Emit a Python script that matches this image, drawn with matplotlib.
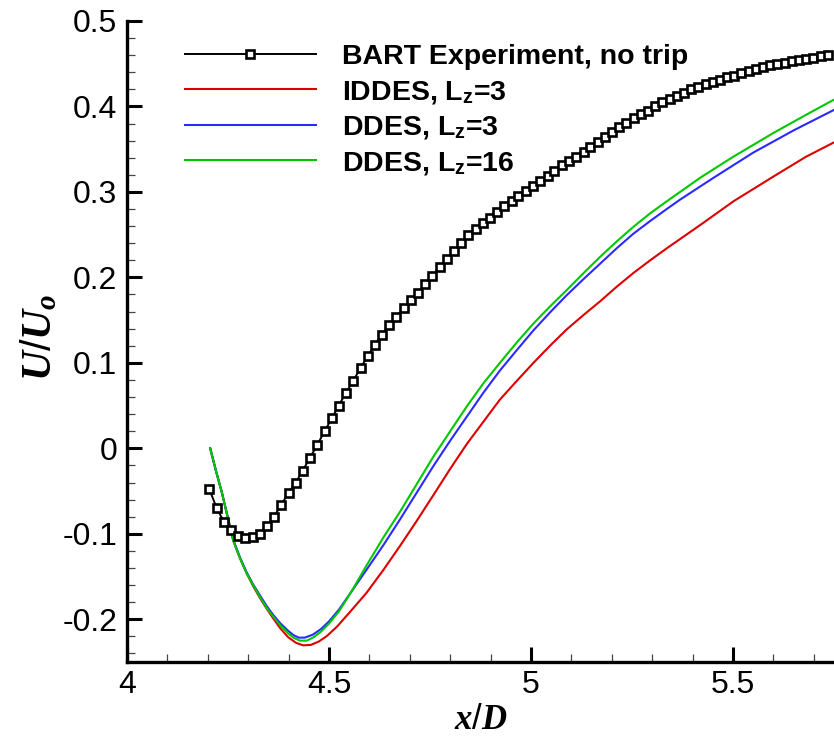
import numpy as np
import matplotlib
matplotlib.use("Agg")
import matplotlib.pyplot as plt
from matplotlib.ticker import MultipleLocator, FuncFormatter

#### DATA ####
exp_x = [4.204, 4.222, 4.240, 4.257, 4.275, 4.293, 4.311, 4.329, 4.346, 4.364,
         4.382, 4.400, 4.418, 4.435, 4.453, 4.471, 4.489, 4.507, 4.524, 4.542,
         4.560, 4.578, 4.596, 4.613, 4.631, 4.649, 4.667, 4.685, 4.702, 4.720,
         4.738, 4.756, 4.774, 4.791, 4.809, 4.827, 4.845, 4.863, 4.880, 4.898,
         4.916, 4.934, 4.952, 4.969, 4.987, 5.005, 5.023, 5.041, 5.058, 5.076,
         5.094, 5.112, 5.130, 5.147, 5.165, 5.183, 5.201, 5.219, 5.236, 5.254,
         5.272, 5.290, 5.308, 5.325, 5.343, 5.361, 5.379, 5.397, 5.414, 5.432,
         5.450, 5.468, 5.486, 5.503, 5.521, 5.539, 5.557, 5.575, 5.592, 5.610,
         5.628, 5.646, 5.664, 5.681, 5.699, 5.717, 5.735]
exp_y = [-0.048, -0.070, -0.086, -0.096, -0.103, -0.105, -0.104, -0.100, -0.091, -0.080,
         -0.066, -0.052, -0.040, -0.026, -0.011, 0.004, 0.020, 0.035, 0.050, 0.065,
         0.079, 0.094, 0.108, 0.121, 0.133, 0.144, 0.154, 0.164, 0.173, 0.182,
         0.192, 0.202, 0.212, 0.221, 0.231, 0.240, 0.250, 0.257, 0.264, 0.270,
         0.277, 0.283, 0.289, 0.295, 0.301, 0.307, 0.313, 0.319, 0.325, 0.331,
         0.336, 0.341, 0.347, 0.352, 0.358, 0.364, 0.370, 0.376, 0.381, 0.386,
         0.391, 0.395, 0.400, 0.405, 0.409, 0.412, 0.416, 0.420, 0.423, 0.426,
         0.429, 0.431, 0.434, 0.436, 0.439, 0.441, 0.444, 0.446, 0.448, 0.450,
         0.451, 0.453, 0.454, 0.456, 0.457, 0.459, 0.460]

iddes_x = [4.206, 4.220, 4.235, 4.250, 4.263, 4.280, 4.296, 4.312, 4.329, 4.345,
           4.362, 4.380, 4.399, 4.418, 4.436, 4.455, 4.475, 4.495, 4.520, 4.550,
           4.593, 4.635, 4.676, 4.717, 4.758, 4.800, 4.841, 4.882, 4.923, 4.965,
           5.006, 5.047, 5.088, 5.130, 5.171, 5.212, 5.253, 5.295, 5.336, 5.418,
           5.501, 5.600, 5.680, 5.750]
iddes_y = [0.000, -0.026, -0.052, -0.082, -0.108, -0.129, -0.146, -0.161, -0.175, -0.187,
           -0.199, -0.211, -0.221, -0.2275, -0.2305, -0.2300, -0.2260, -0.2195, -0.2085, -0.1925,
           -0.169, -0.142, -0.114, -0.085, -0.055, -0.024, 0.005, 0.031, 0.057, 0.079,
           0.100, 0.120, 0.139, 0.156, 0.172, 0.189, 0.205, 0.220, 0.234, 0.261,
           0.289, 0.318, 0.341, 0.358]

ddes3_x = [4.206, 4.220, 4.235, 4.250, 4.263, 4.280, 4.296, 4.312, 4.329, 4.345,
           4.362, 4.380, 4.399, 4.412, 4.425, 4.440, 4.460, 4.480, 4.500, 4.525,
           4.555, 4.593, 4.635, 4.676, 4.717, 4.758, 4.800, 4.841, 4.882, 4.923,
           4.965, 5.006, 5.047, 5.088, 5.130, 5.171, 5.212, 5.253, 5.295, 5.336,
           5.369, 5.450, 5.550, 5.650, 5.750]
ddes3_y = [0.000, -0.026, -0.052, -0.082, -0.107, -0.128, -0.145, -0.159, -0.172, -0.184,
           -0.195, -0.205, -0.2135, -0.2185, -0.2215, -0.2215, -0.2180, -0.2115, -0.2025, -0.1885,
           -0.1680, -0.142, -0.113, -0.083, -0.052, -0.021, 0.009, 0.037, 0.065, 0.091,
           0.115, 0.138, 0.159, 0.179, 0.198, 0.216, 0.234, 0.251, 0.266, 0.280,
           0.291, 0.316, 0.346, 0.372, 0.396]

ddes16_x = [4.206, 4.220, 4.235, 4.250, 4.263, 4.280, 4.296, 4.312, 4.329, 4.345,
            4.362, 4.380, 4.399, 4.412, 4.428, 4.445, 4.462, 4.480, 4.500, 4.525,
            4.555, 4.593, 4.635, 4.676, 4.717, 4.758, 4.800, 4.841, 4.882, 4.923,
            4.965, 5.006, 5.047, 5.088, 5.130, 5.171, 5.212, 5.253, 5.295, 5.336,
            5.420, 5.500, 5.600, 5.680, 5.750]
ddes16_y = [0.000, -0.026, -0.052, -0.082, -0.108, -0.129, -0.146, -0.160, -0.174, -0.186,
            -0.197, -0.2075, -0.2165, -0.2215, -0.2250, -0.2250, -0.2210, -0.2145, -0.2050, -0.1905,
            -0.1680, -0.1370, -0.104, -0.074, -0.042, -0.010, 0.020, 0.049, 0.076, 0.100,
            0.124, 0.146, 0.166, 0.185, 0.205, 0.224, 0.242, 0.259, 0.275, 0.289,
            0.317, 0.341, 0.369, 0.390, 0.408]

labels = ["BART Experiment, no trip",
          r"IDDES, L$_{\mathbf{z}}$=3",
          r"DDES, L$_{\mathbf{z}}$=3",
          r"DDES, L$_{\mathbf{z}}$=16"]

#### STYLE ####
plt.rcParams['font.family'] = ['Liberation Sans', 'DejaVu Sans']
plt.rcParams['axes.unicode_minus'] = False
plt.rcParams['mathtext.fontset'] = 'custom'
plt.rcParams['mathtext.rm'] = 'Liberation Sans'
plt.rcParams['mathtext.bf'] = 'Liberation Sans:bold'
plt.rcParams['mathtext.it'] = 'Liberation Serif:italic:bold'

fig = plt.figure(figsize=(8.34, 7.39), dpi=100)
ax = fig.add_axes([127/834, 77/739, 707/834, 641/739])

ax.plot(exp_x, exp_y, color='black', lw=1.4, marker='s', markersize=5.3,
        markerfacecolor='white', markeredgecolor='black', markeredgewidth=1.9,
        label=labels[0], zorder=5)
ax.plot(iddes_x, iddes_y, color='#dd0000', lw=1.5, label=labels[1])
ax.plot(ddes3_x, ddes3_y, color='#2a2aff', lw=1.5, label=labels[2])
ax.plot(ddes16_x, ddes16_y, color='#00c800', lw=1.5, label=labels[3])

ax.set_xlim(4, 5.75)
ax.set_ylim(-0.25, 0.5)

for s in ['top', 'right']:
    ax.spines[s].set_visible(False)
for s in ['left', 'bottom']:
    ax.spines[s].set_linewidth(2.4)

ax.xaxis.set_major_locator(MultipleLocator(0.5))
ax.xaxis.set_minor_locator(MultipleLocator(0.1))
ax.yaxis.set_major_locator(MultipleLocator(0.1))
ax.yaxis.set_minor_locator(MultipleLocator(0.02))
fmt = FuncFormatter(lambda v, p: "%g" % round(v, 3))
ax.xaxis.set_major_formatter(fmt)
ax.yaxis.set_major_formatter(fmt)

ax.tick_params(which='major', direction='in', length=11, width=2.2,
               labelsize=23, top=False, right=False)
ax.tick_params(axis='y', which='major', pad=7)
ax.tick_params(axis='x', which='major', pad=6)
ax.tick_params(which='minor', direction='in', length=6, width=0.9,
               color='#444444', top=False, right=False)

ax.set_xlabel(r"$\mathit{x/D}$", fontsize=25)
ax.set_ylabel(r"$\mathit{U/U_o}$", fontsize=30)
ax.xaxis.set_label_coords(0.5, -0.064)
ax.yaxis.set_label_coords(-0.095, 0.507)

leg = ax.legend(loc='upper left', bbox_to_anchor=(0.082, 0.964), frameon=False,
                borderpad=0, borderaxespad=0, handlelength=4.6, handletextpad=0.9,
                labelspacing=0.3, numpoints=1,
                prop={'weight': 'bold', 'size': 20.5})

fig.savefig("out.png", dpi=100)
